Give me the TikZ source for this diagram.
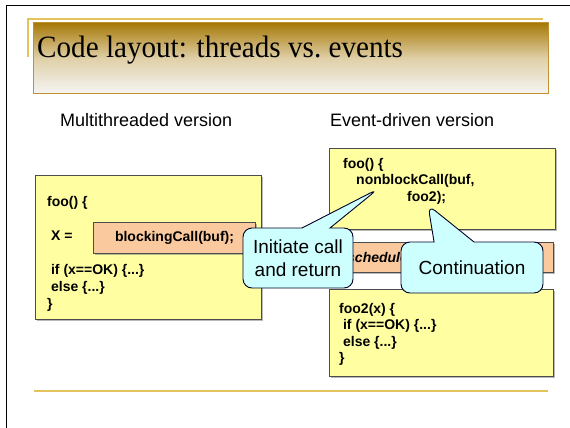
\documentclass[tikz,border=0pt]{standalone}
\usepackage{fontspec}
\setmainfont{Liberation Serif}
\setsansfont{Liberation Sans}
\usetikzlibrary{shapes.callouts,shadows}
\definecolor{slidegold}{RGB}{228,194,92}
\definecolor{titlebrown}{RGB}{166,120,6}
\definecolor{titleedge}{RGB}{192,146,48}
\definecolor{codeyellow}{RGB}{255,255,162}
\definecolor{callpeach}{RGB}{250,202,158}
\definecolor{bubblecyan}{RGB}{206,255,255}
\newcommand{\codefont}{\fontsize{14}{17}\selectfont\sffamily\bfseries}
\newcommand{\codefontr}{\fontsize{14}{16.5}\selectfont\sffamily\bfseries}

\begin{document}
\begin{tikzpicture}[x=1pt,y=-1pt,
    codebox/.style={draw=black!70,line width=1pt,fill=codeyellow,anchor=north west,inner sep=0pt,
      drop shadow={shadow xshift=1.3pt,shadow yshift=-1.3pt,opacity=0.55}},
    peachbox/.style={codebox,fill=callpeach},
    codetext/.style={anchor=base west,inner sep=0pt},
    bubble/.style={rectangle callout,rounded corners=9pt,draw=black!85!blue,line width=0.9pt,
      fill=bubblecyan,align=center,inner sep=0pt,font=\fontsize{19}{23}\selectfont\sffamily}]
  \useasboundingbox (0,0) rectangle (570,428);
  % slide frame
  \draw[line width=1pt] (6,428) -- (6,6) -- (570,6);
  % title
  \draw[slidegold,line width=1.2pt] (28,57) -- (28,19) -- (543,19);
  \node[draw=titleedge,line width=1.4pt,top color=titlebrown,bottom color=white!96!black,
    middle color=titlebrown!35!white,anchor=north west,inner sep=0pt,
    minimum width=515pt,minimum height=71pt] (titlebar) at (33,22) {};
  \node[codetext,font=\fontsize{31}{36}\selectfont] (title) at (37,58)
    {\scalebox{0.94}[1]{Code layout: threads vs.\ events}};
  \node[codetext,font=\fontsize{18}{22}\selectfont\sffamily] (mtlabel) at (60,126) {Multithreaded version};
  \node[codetext,font=\fontsize{18}{22}\selectfont\sffamily] (evlabel) at (330,126) {Event-driven version};

  % multithreaded
  \node[codebox,minimum width=226pt,minimum height=144pt] (threadbox) at (35,175) {};
  \node[peachbox,minimum width=162pt,minimum height=31pt] (blockbox) at (93,222) {};
  \node[font=\codefont,inner sep=0pt] (blocktext) at (blockbox.center) {blockingCall(buf);};
  \node[codetext,font=\codefont] (threadcode) at (47,206) {%
    \begin{tabular}[t]{@{}l@{}}
      foo() \{\\
      \\
      \ X =\\
      \\
      \ if (x==OK) \{...\}\\
      \ else \{...\}\\
      \}
    \end{tabular}};

  % event-driven
  \node[codebox,minimum width=226pt,minimum height=81pt] (eventbox) at (329,148) {};
  \node[codetext,font=\codefontr] (eventcode) at (343,168) {%
    \begin{tabular}[t]{@{}l@{}}
      foo() \{\\
      \hspace{13pt}nonblockCall(buf,\\
      \hspace{64pt}foo2);
    \end{tabular}};
  \node[peachbox,minimum width=224pt,minimum height=30pt] (schedbar) at (329,242) {};
  \node[codetext,font=\fontsize{14}{16}\selectfont\sffamily\bfseries\itshape] (schedtext) at (347,262) {scheduler};
  \node[codebox,minimum width=224pt,minimum height=87pt] (contbox) at (329,289) {};
  \node[codetext,font=\codefontr] (contcode) at (339,313) {%
    \begin{tabular}[t]{@{}l@{}}
      foo2(x) \{\\
      \ if (x==OK) \{...\}\\
      \ else \{...\}\\
      \}
    \end{tabular}};

  \draw[slidegold,line width=2pt] (34,391) -- (548,391);

  % callouts
  \coordinate (inittip) at (378,189);
  \coordinate (conttip) at (428,205);
  \node[bubble,minimum width=110pt,minimum height=60pt,callout pointer width=28pt,
    callout absolute pointer={(inittip)}] (initbubble) at (298,258) {Initiate call\\and return};
  \node[bubble,minimum width=142pt,minimum height=51pt,callout pointer width=40pt,
    callout absolute pointer={(conttip)}] (contbubble) at (472,267.5) {Continuation};
\end{tikzpicture}
\end{document}
